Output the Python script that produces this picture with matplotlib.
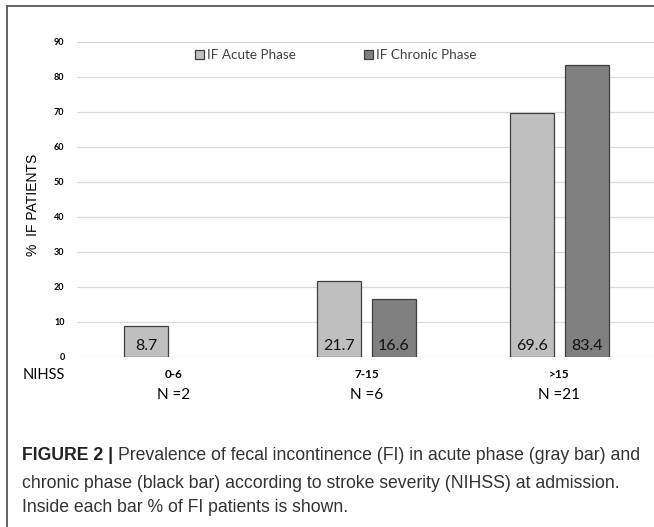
import numpy as np
import matplotlib
matplotlib.use("Agg")
import matplotlib.pyplot as plt
from matplotlib.patches import Rectangle
from matplotlib.transforms import blended_transform_factory

groups = ["0-6", "7-15", ">15"]
n_labels = ["N =2", "N =6", "N =21"]
acute = [8.7, 21.7, 69.6]
chronic = [np.nan, 16.6, 83.4]
series_names = ["IF Acute Phase", "IF Chronic Phase"]
caption_bold = "FIGURE 2 | "
caption_lines = [
    "Prevalence of fecal incontinence (FI) in acute phase (gray bar) and",
    "chronic phase (black bar) according to stroke severity (NIHSS) at admission.",
    "Inside each bar % of FI patients is shown.",
]

W, H = 654, 527
fig = plt.figure(figsize=(W / 100, H / 100), dpi=100)

def fx(px):
    return px / W

def fy(py):
    return 1 - py / H

chart_font = ["Lato", "DejaVu Sans"]
cap_font = ["Liberation Sans", "DejaVu Sans"]

# axes placed in pixel terms of the reference
ax = fig.add_axes([fx(77), fy(356.7), fx(654 - 77), fy(41.7) - fy(356.7)])
x = np.arange(len(groups))
w = 0.228
off = 0.1425
ax.bar(x - off, acute, w, color="#bfbfbf", edgecolor="#3f3f3f", linewidth=0.9,
       label=series_names[0], zorder=3)
ax.bar(x + off, chronic, w, color="#808080", edgecolor="#3f3f3f", linewidth=0.9,
       label=series_names[1], zorder=3)

for xi, v in zip(x, acute):
    ax.text(xi - off, 3.0, f"{v}", ha="center", va="center", fontsize=11.5,
            family=chart_font, color="#111111", zorder=4)
for xi, v in zip(x, chronic):
    if not np.isnan(v):
        ax.text(xi + off, 3.0, f"{v}", ha="center", va="center", fontsize=11.5,
                family=chart_font, color="#111111", zorder=4)

ax.set_ylim(0, 90)
ax.set_xlim(-0.5, 2.49)
ax.set_yticks(np.arange(0, 91, 10))
ax.yaxis.grid(True, color="#d9d9d9", linewidth=0.9, zorder=0)
for s in ax.spines.values():
    s.set_visible(False)
ax.tick_params(axis="y", length=0, pad=9, labelsize=6.5)
for lab in ax.get_yticklabels():
    lab.set_fontweight("bold")
    lab.set_family(chart_font)

ax.set_xticks(x)
ax.set_xticklabels(groups, fontsize=8.5, fontweight="bold", family=chart_font)
ax.tick_params(axis="x", length=0, pad=9)

tr = blended_transform_factory(ax.transData, fig.transFigure)
for xi, lab in zip(x, n_labels):
    ax.text(xi, fy(395), lab, transform=tr, ha="center", va="center",
            fontsize=11, family=chart_font)

fig.text(fx(23), fy(375), "NIHSS", ha="left", va="center", fontsize=10.5,
         family=chart_font)
fig.text(fx(33), fy(205), "%  IF PATIENTS", rotation=90, ha="center",
         va="center", fontsize=10, family=["Liberation Sans", "DejaVu Sans"])

leg = ax.legend(ncol=2, loc="center left", bbox_to_anchor=(fx(195), fy(55)),
                bbox_transform=fig.transFigure, frameon=False,
                prop={"family": chart_font, "size": 9.7},
                handlelength=0.65, handleheight=0.65, handletextpad=0.25,
                columnspacing=5.05, borderpad=0, borderaxespad=0)
for txt in leg.get_texts():
    txt.set_color("#404040")

# outer frame, cut at right and bottom
fig.add_artist(Rectangle((fx(7), -0.2), 1.2, fy(6) + 0.2, transform=fig.transFigure,
                         fill=False, edgecolor="#555555", linewidth=1.3))

# caption
fig.canvas.draw()
r = fig.canvas.get_renderer()
ys = [455, 483, 508]
cs = 12.7
t = fig.text(fx(22), fy(ys[0]), caption_bold, ha="left", va="center",
             fontsize=cs, fontweight="bold", family=cap_font, color="#222222")
bb = t.get_window_extent(renderer=r)
fig.text(bb.x1 / W, fy(ys[0]), caption_lines[0], ha="left", va="center",
         fontsize=cs, family=cap_font, color="#333333")
for yy, line in zip(ys[1:], caption_lines[1:]):
    fig.text(fx(22), fy(yy), line, ha="left", va="center", fontsize=cs,
             family=cap_font, color="#333333")

fig.savefig("out.png", dpi=100)
